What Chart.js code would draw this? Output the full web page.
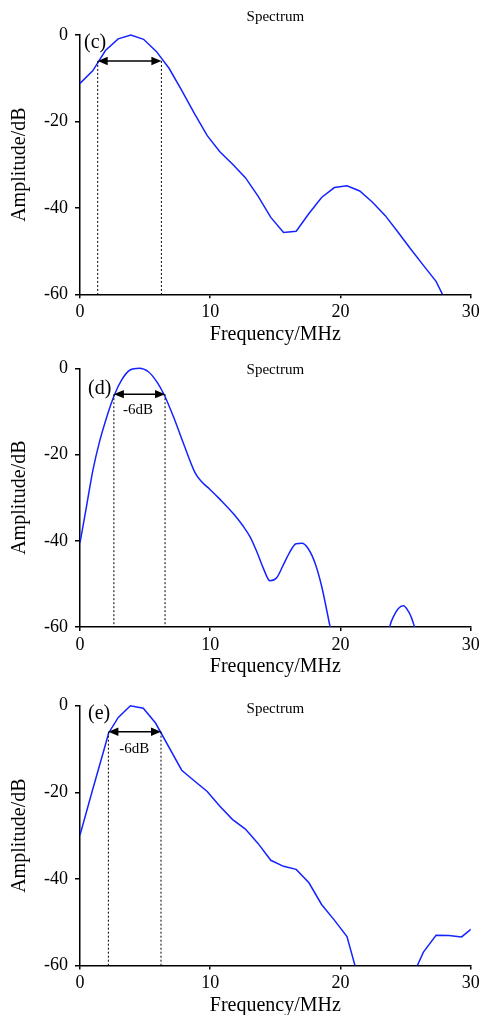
<!DOCTYPE html>
<html><head><meta charset="utf-8">
<script src="https://cdn.jsdelivr.net/npm/chart.js@4"></script>
<style>
html,body{margin:0;padding:0;background:#fff;overflow:hidden;width:484px;height:1015px}
canvas{position:absolute;left:0}
</style></head><body>
<canvas id="c1" width="484" height="347" style="top:0px"></canvas>
<canvas id="c2" width="484" height="339" style="top:340px"></canvas>
<canvas id="c3" width="484" height="338" style="top:680px"></canvas>
<script>
// ---- data ----
const xTicks = [0, 10, 20, 30];
const yTicks = [-60, -40, -20, 0];

const freqC = [0, 0.977, 1.953, 2.93, 3.906, 4.883, 5.859, 6.836, 7.81, 8.79, 9.77, 10.74, 11.72, 12.7, 13.67, 14.65, 15.63, 16.6, 17.58, 18.55, 19.53, 20.5, 21.48, 22.46, 23.44, 24.41, 25.39, 26.37, 27.34, 28.32];
const ampC  = [-11.2, -8.3, -3.6, -0.9, 0, -1.0, -3.8, -7.7, -12.8, -18.2, -23.3, -27, -29.9, -33, -37.3, -42.2, -45.7, -45.4, -41.3, -37.6, -35.3, -34.9, -36.1, -38.7, -41.8, -45.6, -49.5, -53.3, -57, -63];

const freqD = [0, 0.5, 1.0, 1.5, 2.0, 2.64, 3.2, 3.84, 4.55, 5.25, 5.89, 6.47, 7.17, 7.94, 8.83, 9.34, 9.98, 10.75, 11.8, 12.55, 13.06, 13.57, 14.08, 14.59, 15.1, 15.61, 16.13, 16.59, 17.03, 17.54, 18.05, 18.56, 19.2, 19.35, 21.5, 23.7, 23.8, 24.07, 24.45, 24.83, 25.22, 25.47, 25.68, 25.8];
const ampD  = [-40.5, -32, -23.5, -17, -11.8, -6.2, -2.7, -0.4, 0, -0.8, -3.1, -6.2, -11.2, -17.4, -24.2, -26.3, -28.1, -30.4, -33.8, -36.7, -39.1, -42.5, -46.4, -49.3, -48.6, -45.6, -42.5, -40.7, -40.6, -41.9, -45.2, -50.6, -59.9, -62, null, -62, -59.8, -57.6, -55.7, -55.1, -56.4, -58, -59.9, -61];

const freqE = [0, 0.93, 1.82, 2.2, 2.94, 3.87, 4.86, 5.8, 7.81, 8.79, 9.77, 10.74, 11.72, 12.7, 13.67, 14.65, 15.63, 16.6, 17.58, 18.55, 19.5, 20.5, 21.48, 23.5, 25.39, 26.37, 27.34, 28.32, 29.3, 30.27];
const ampE  = [-29.9, -19.8, -10.4, -6.3, -2.7, 0, -0.6, -4.0, -14.9, -17.4, -19.8, -23.2, -26.3, -28.5, -31.8, -35.7, -37.1, -37.8, -40.9, -45.9, -49.4, -53.3, -64, null, -63.4, -56.9, -53.0, -53.1, -53.4, -51.0];

// -6 dB bandwidth markers [f1, f2] and level
const bandC = [1.36, 6.25], bandD = [2.6, 6.53], bandE = [2.18, 6.22];
const bandLevel = -6;
const bandTextD = [4.45, -9.7], bandTextE = [4.16, -10.1];

const FONT = "'Liberation Serif', 'Times New Roman', serif";

const annot = {
  id: 'annot',
  afterDatasetsDraw(chart) {
    const o = chart.options.plugins.annot;
    const {ctx, chartArea} = chart;
    const x = chart.scales.x, y = chart.scales.y;
    const yl = y.getPixelForValue(bandLevel);
    const yb = y.getPixelForValue(y.min);
    const x1 = x.getPixelForValue(o.band[0]), x2 = x.getPixelForValue(o.band[1]);
    ctx.save();
    ctx.strokeStyle = '#000';
    ctx.lineWidth = 1;
    ctx.setLineDash([2, 2]);
    [x1, x2].forEach(px => {
      ctx.beginPath(); ctx.moveTo(px, yl); ctx.lineTo(px, yb); ctx.stroke();
    });
    ctx.setLineDash([]);
    const ah = 10, aw = 4.2;
    ctx.lineWidth = 1.5;
    ctx.beginPath(); ctx.moveTo(x1 + ah - 1, yl); ctx.lineTo(x2 - ah + 1, yl); ctx.stroke();
    ctx.fillStyle = '#000';
    ctx.beginPath(); ctx.moveTo(x1, yl); ctx.lineTo(x1 + ah, yl - aw); ctx.lineTo(x1 + ah, yl + aw); ctx.closePath(); ctx.fill();
    ctx.beginPath(); ctx.moveTo(x2, yl); ctx.lineTo(x2 - ah, yl - aw); ctx.lineTo(x2 - ah, yl + aw); ctx.closePath(); ctx.fill();
    // texts
    ctx.textBaseline = 'middle';
    if (o.bandText) {
      ctx.font = '15px ' + FONT;
      ctx.textAlign = 'center';
      ctx.fillText('-6dB', x.getPixelForValue(o.bandText[0]), y.getPixelForValue(o.bandText[1]));
    }
    ctx.font = '20px ' + FONT;
    ctx.textAlign = 'left';
    ctx.fillText(o.tag, chartArea.left + o.tagPos[0], chartArea.top + o.tagPos[1]);
    ctx.font = '15px ' + FONT;
    ctx.textAlign = 'center';
    ctx.fillText('Spectrum', (chartArea.left + chartArea.right) / 2, chartArea.top + o.specDy);
    ctx.restore();
  }
};

function makeChart(id, freq, amp, opt) {
  const grid = {display: true, drawOnChartArea: false, drawTicks: true, color: '#000', lineWidth: 1.5};
  return new Chart(document.getElementById(id), {
    type: 'line',
    data: {datasets: [{
      data: freq.map((f, i) => ({x: f, y: amp[i]})),
      borderColor: 'rgb(20,35,255)',
      borderWidth: 1.5,
      pointRadius: 0,
      tension: opt.smooth ? 0.4 : 0,
      cubicInterpolationMode: opt.smooth ? 'monotone' : 'default',
      spanGaps: false,
      fill: false,
      clip: {left: 0, right: 0, top: 3, bottom: 0}
    }]},
    options: {
      responsive: false,
      animation: false,
      devicePixelRatio: 1,
      layout: {padding: {top: opt.top, right: 13.3, bottom: 0, left: 0}},
      plugins: {
        legend: {display: false}, title: {display: false}, tooltip: {enabled: false},
        annot: {band: opt.band, bandText: opt.bandText, tag: opt.tag, tagPos: opt.tagPos, specDy: opt.specDy}
      },
      scales: {
        x: {
          type: 'linear', min: xTicks[0], max: xTicks[xTicks.length - 1],
          afterBuildTicks: s => { s.ticks = xTicks.map(v => ({value: v})); },
          ticks: {color: '#000', font: {family: FONT, size: 18}, padding: 3, maxRotation: 0},
          grid: Object.assign({tickLength: 4}, grid),
          border: {display: true, color: '#000', width: 1.5},
          title: {display: true, text: 'Frequency/MHz', color: '#000', font: {family: FONT, size: 20}, padding: {top: 0, bottom: 0}},
          afterFit: s => { s.height = opt.xh; }
        },
        y: {
          type: 'linear', min: yTicks[0], max: yTicks[yTicks.length - 1],
          afterBuildTicks: s => { s.ticks = yTicks.map(v => ({value: v})); },
          ticks: {color: '#000', font: {family: FONT, size: 18}, padding: 7},
          grid: Object.assign({tickLength: 5}, grid),
          border: {display: true, color: '#000', width: 1.5},
          title: {display: true, text: 'Amplitude/dB', color: '#000', font: {family: FONT, size: 20}, padding: {top: 8, bottom: 0}},
          afterFit: s => { s.width = 80; }
        }
      }
    },
    plugins: [annot]
  });
}

makeChart('c1', freqC, ampC, {top: 35, xh: 52.7, band: bandC, bandText: null, tag: '(c)', tagPos: [4, 8], specDy: -17.7, smooth: false});
makeChart('c2', freqD, ampD, {top: 28.3, xh: 52, band: bandD, bandText: bandTextD, tag: '(d)', tagPos: [8, 20], specDy: 1.7, smooth: true});
makeChart('c3', freqE, ampE, {top: 25.7, xh: 52.5, band: bandE, bandText: bandTextE, tag: '(e)', tagPos: [8, 8.5], specDy: 3.3, smooth: false});
</script>
</body></html>
